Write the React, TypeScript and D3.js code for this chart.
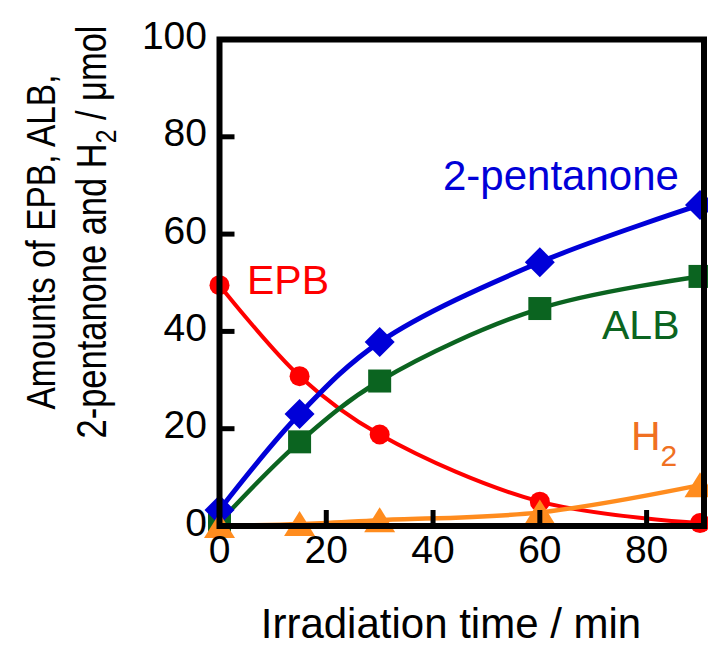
import React from 'react';
import * as d3 from 'd3';

const times = [0, 15, 30, 60, 90];
const epb = [49.5, 30.8, 18.8, 5, 0.6];
const alb = [0.8, 17.3, 29.8, 44.7, 51.3];
const pentanone = [3.3, 23, 37.8, 54.2, 66];
const h2 = [0, 0.4, 1.2, 2.8, 8.4];

const xTicks = [0, 20, 40, 60, 80];
const yTicks = [0, 20, 40, 60, 80, 100];

const FONT = '"Liberation Sans", Arial, sans-serif';

const App = () => {
  const width = 708;
  const height = 648;

  const x = d3.scaleLinear().domain([0, 90]).range([219.5, 700]);
  const y = d3.scaleLinear().domain([0, 100]).range([526, 39.5]);

  const line = (vals: number[]) =>
    d3.line<number>()
      .x((_, i) => x(times[i]))
      .y(v => y(v))
      .curve(d3.curveCatmullRom.alpha(0.5))(vals) as string;

  const red = '#ff0000';
  const blue = '#0000d8';
  const green = '#0b6420';
  const orange = '#ff8c1e';

  const x0 = x(0), x1 = x(90), y0 = y(0), y1 = y(100);

  return (
    <svg width={width} height={height} style={{ position: 'absolute', left: 0, top: 0, fontFamily: FONT }}>
      {/* curves */}
      <path d={line(epb)} fill="none" stroke={red} strokeWidth={4} />
      <path d={line(h2)} fill="none" stroke={orange} strokeWidth={4.5} />
      <path d={line(alb)} fill="none" stroke={green} strokeWidth={4.5} />
      <path d={line(pentanone)} fill="none" stroke={blue} strokeWidth={5} />

      {/* markers */}
      {epb.map((v, i) => (
        <circle key={`c${i}`} cx={x(times[i])} cy={y(v)} r={10} fill={red} />
      ))}
      {alb.map((v, i) => (
        <rect key={`s${i}`} x={x(times[i]) - 11.5} y={y(v) - 11.5} width={23} height={23} fill={green} />
      ))}
      {pentanone.map((v, i) => {
        const cx = x(times[i]), cy = y(v);
        return <path key={`d${i}`} d={`M${cx},${cy - 15}L${cx + 15},${cy}L${cx},${cy + 15}L${cx - 15},${cy}Z`} fill={blue} />;
      })}
      {h2.map((v, i) => {
        const cx = x(times[i]), cy = y(v);
        return <path key={`t${i}`} d={`M${cx},${cy - 13}L${cx + 15.5},${cy + 12}L${cx - 15.5},${cy + 12}Z`} fill={orange} />;
      })}

      {/* frame */}
      <rect x={x0} y={y1} width={x1 - x0 + 4} height={y0 - y1} fill="none" stroke="#000" strokeWidth={6} />
      {yTicks.slice(1, -1).map(t => (
        <line key={`yt${t}`} x1={x0} x2={x0 + 15} y1={y(t)} y2={y(t)} stroke="#000" strokeWidth={5} />
      ))}
      {xTicks.slice(1).map(t => (
        <line key={`xt${t}`} x1={x(t)} x2={x(t)} y1={y0} y2={y0 - 16} stroke="#000" strokeWidth={5} />
      ))}

      {/* tick labels */}
      {yTicks.map(t => (
        <text key={`yl${t}`} x={207} y={y(t) - 4} textAnchor="end" dominantBaseline="central" fontSize={39} fill="#000">{t}</text>
      ))}
      {xTicks.map(t => (
        <text key={`xl${t}`} x={x(t)} y={563} textAnchor="middle" fontSize={39} fill="#000">{t}</text>
      ))}

      {/* axis titles */}
      <text x={451} y={638} textAnchor="middle" fontSize={42} fill="#000">Irradiation time / min</text>
      <g transform="rotate(-90)">
        <text x={-242} y={55} textAnchor="middle" fontSize={41} fill="#000"
          textLength={335} lengthAdjust="spacingAndGlyphs">Amounts of EPB, ALB,</text>
        <text x={-232} y={106} textAnchor="middle" fontSize={42} fill="#000"
          textLength={413} lengthAdjust="spacingAndGlyphs">
          2-pentanone and H<tspan fontSize={30} dy={10}>2</tspan><tspan dy={-10}> / μmol</tspan>
        </text>
      </g>

      {/* series labels */}
      <text x={443} y={190} fontSize={42} fill={blue}>2-pentanone</text>
      <text x={247} y={294} fontSize={41} fill={red}>EPB</text>
      <text x={602} y={339} fontSize={41} fill={green}>ALB</text>
      <text x={631} y={450} fontSize={41} fill="#f07022">H<tspan fontSize={30} dy={16}>2</tspan></text>
    </svg>
  );
};

export default App;
